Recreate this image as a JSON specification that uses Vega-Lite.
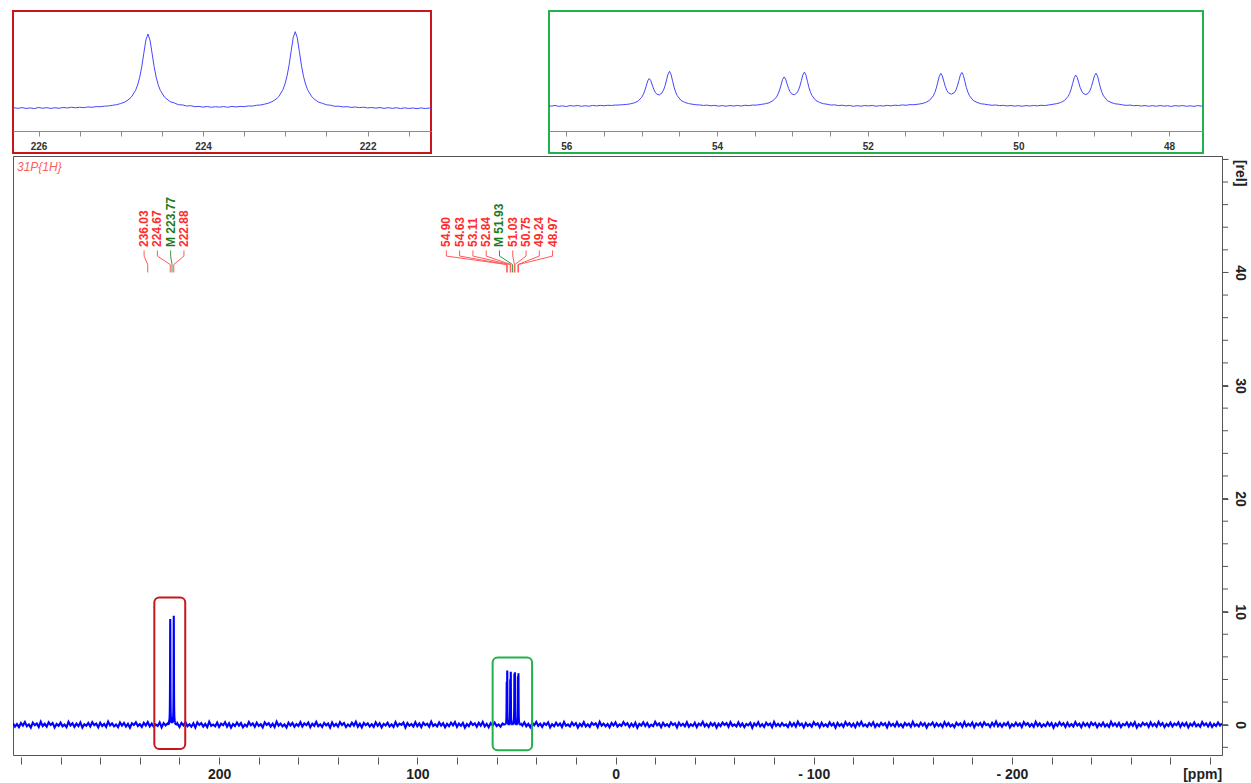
{
  "$schema": "https://vega.github.io/schema/vega-lite/v6.json",
  "background": "white",
  "padding": {"left": 12, "top": 10, "right": 2, "bottom": 0},
  "spacing": 1,
  "config": {
    "font": "Liberation Sans",
    "view": {"stroke": null},
    "axis": {"labelFont": "Liberation Sans", "grid": false, "labelOverlap": false}
  },
  "datasets": {
    "relTicks": [
      {"v": -2}, {"v": 0}, {"v": 2}, {"v": 4}, {"v": 6}, {"v": 8}, {"v": 10}, {"v": 12}, {"v": 14}, {"v": 16},
      {"v": 18}, {"v": 20}, {"v": 22}, {"v": 24}, {"v": 26}, {"v": 28}, {"v": 30}, {"v": 32}, {"v": 34}, {"v": 36},
      {"v": 38}, {"v": 40}, {"v": 42}, {"v": 44}, {"v": 46}, {"v": 48}, {"v": 50}
    ],
    "peaks": [
      {"ppm": 236.03, "label": "236.03", "kind": "peak", "group": 1},
      {"ppm": 224.67, "label": "224.67", "kind": "peak", "group": 1},
      {"ppm": 223.77, "label": "M 223.77", "kind": "multiplet", "group": 1},
      {"ppm": 222.88, "label": "222.88", "kind": "peak", "group": 1},
      {"ppm": 54.90, "label": "54.90", "kind": "peak", "group": 2},
      {"ppm": 54.63, "label": "54.63", "kind": "peak", "group": 2},
      {"ppm": 53.11, "label": "53.11", "kind": "peak", "group": 2},
      {"ppm": 52.84, "label": "52.84", "kind": "peak", "group": 2},
      {"ppm": 51.93, "label": "M 51.93", "kind": "multiplet", "group": 2},
      {"ppm": 51.03, "label": "51.03", "kind": "peak", "group": 2},
      {"ppm": 50.75, "label": "50.75", "kind": "peak", "group": 2},
      {"ppm": 49.24, "label": "49.24", "kind": "peak", "group": 2},
      {"ppm": 48.97, "label": "48.97", "kind": "peak", "group": 2}
    ],
    "spectrum": [
      {"p":304,"i":0.12},{"p":303,"i":-0.18},{"p":302,"i":0.05},{"p":301,"i":-0.22},{"p":300,"i":0.15},{"p":299,"i":-0.08},{"p":298,"i":0.24},{"p":297,"i":-0.14},{"p":296,"i":0.03},{"p":295,"i":-0.26},
      {"p":294,"i":0.19},{"p":293,"i":-0.05},{"p":292,"i":0.11},{"p":291,"i":-0.2},{"p":290,"i":0.27},{"p":289,"i":-0.12},{"p":288,"i":0.08},{"p":287,"i":-0.17},{"p":286,"i":0.21},{"p":285,"i":-0.02},
      {"p":284,"i":0.14},{"p":283,"i":-0.24},{"p":282,"i":0.06},{"p":281,"i":-0.1},{"p":280,"i":0.18},{"p":279,"i":-0.15},{"p":278,"i":0.01},{"p":277,"i":-0.21},{"p":276,"i":0.25},{"p":275,"i":-0.07},
      {"p":274,"i":0.13},{"p":273,"i":-0.19},{"p":272,"i":0.09},{"p":271,"i":-0.13},{"p":270,"i":0.2},{"p":269,"i":-0.25},{"p":268,"i":0.04},{"p":267,"i":-0.09},{"p":266,"i":0.16},{"p":265,"i":-0.16},
      {"p":264,"i":0.22},{"p":263,"i":-0.04},{"p":262,"i":0.1},{"p":261,"i":-0.23},{"p":260,"i":0.17},{"p":259,"i":-0.11},{"p":258,"i":0.07},{"p":257,"i":-0.19},{"p":256,"i":0.28},{"p":255,"i":-0.06},
      {"p":254,"i":0.12},{"p":253,"i":-0.14},{"p":252,"i":0.02},{"p":251,"i":-0.22},{"p":250,"i":0.19},{"p":249,"i":-0.09},{"p":248,"i":0.15},{"p":247,"i":-0.17},{"p":246,"i":0.08},{"p":245,"i":-0.27},
      {"p":244,"i":0.13},{"p":243,"i":-0.03},{"p":242,"i":0.21},{"p":241,"i":-0.12},{"p":240,"i":0.05},{"p":239,"i":-0.2},{"p":238,"i":0.16},{"p":237,"i":-0.08},{"p":236,"i":0.24},{"p":235,"i":-0.15},
      {"p":234,"i":0.1},{"p":233,"i":-0.18},{"p":232,"i":0.03},{"p":231,"i":-0.11},{"p":230,"i":0.2},{"p":229,"i":-0.24},{"p":228,"i":0.14},{"p":227,"i":-0.06},
      {"p":226.40,"i":0.05},{"p":226.35,"i":-0.04},{"p":226.30,"i":0.07},{"p":226.25,"i":0.00},{"p":226.20,"i":0.09},{"p":226.15,"i":-0.02},{"p":226.10,"i":0.05},{"p":226.05,"i":-0.04},{"p":226.00,"i":0.11},{"p":225.95,"i":0.01},
      {"p":225.90,"i":0.08},{"p":225.85,"i":-0.01},{"p":225.80,"i":0.07},{"p":225.75,"i":0.01},{"p":225.70,"i":0.11},{"p":225.65,"i":0.04},{"p":225.60,"i":0.14},{"p":225.55,"i":0.07},{"p":225.50,"i":0.14},{"p":225.45,"i":0.08},
      {"p":225.40,"i":0.18},{"p":225.35,"i":0.13},{"p":225.30,"i":0.21},{"p":225.25,"i":0.20},{"p":225.20,"i":0.27},{"p":225.15,"i":0.30},{"p":225.10,"i":0.38},{"p":225.05,"i":0.46},{"p":225.00,"i":0.60},{"p":224.95,"i":0.80},
      {"p":224.90,"i":1.14},{"p":224.87,"i":1.43},{"p":224.82,"i":2.27},{"p":224.795,"i":2.95},{"p":224.77,"i":3.91},{"p":224.745,"i":5.25},{"p":224.72,"i":6.94},{"p":224.695,"i":8.59},{"p":224.67,"i":9.34},{"p":224.645,"i":8.59},
      {"p":224.62,"i":6.94},{"p":224.595,"i":5.25},{"p":224.57,"i":3.91},{"p":224.545,"i":2.95},{"p":224.52,"i":2.27},{"p":224.47,"i":1.43},{"p":224.45,"i":1.24},{"p":224.40,"i":0.83},{"p":224.35,"i":0.68},{"p":224.30,"i":0.45},
      {"p":224.25,"i":0.43},{"p":224.20,"i":0.29},{"p":224.15,"i":0.33},{"p":224.10,"i":0.21},{"p":224.05,"i":0.24},{"p":224.00,"i":0.15},{"p":223.95,"i":0.23},{"p":223.90,"i":0.13},{"p":223.85,"i":0.20},{"p":223.80,"i":0.15},
      {"p":223.75,"i":0.22},{"p":223.70,"i":0.13},{"p":223.65,"i":0.24},{"p":223.60,"i":0.17},{"p":223.55,"i":0.24},{"p":223.50,"i":0.21},{"p":223.45,"i":0.30},{"p":223.40,"i":0.28},{"p":223.35,"i":0.38},{"p":223.30,"i":0.42},
      {"p":223.25,"i":0.53},{"p":223.20,"i":0.67},{"p":223.15,"i":0.90},{"p":223.10,"i":1.27},{"p":223.08,"i":1.47},{"p":223.03,"i":2.34},{"p":223.005,"i":3.05},{"p":222.98,"i":4.04},{"p":222.955,"i":5.42},{"p":222.93,"i":7.16},
      {"p":222.905,"i":8.87},{"p":222.88,"i":9.64},{"p":222.855,"i":8.87},{"p":222.83,"i":7.16},{"p":222.805,"i":5.42},{"p":222.78,"i":4.04},{"p":222.755,"i":3.05},{"p":222.73,"i":2.34},{"p":222.68,"i":1.47},{"p":222.65,"i":1.18},
      {"p":222.60,"i":0.79},{"p":222.55,"i":0.63},{"p":222.50,"i":0.44},{"p":222.45,"i":0.39},{"p":222.40,"i":0.25},{"p":222.35,"i":0.27},{"p":222.30,"i":0.17},{"p":222.25,"i":0.21},{"p":222.20,"i":0.12},{"p":222.15,"i":0.16},
      {"p":222.10,"i":0.09},{"p":222.05,"i":0.14},{"p":222.00,"i":0.05},{"p":221.95,"i":0.11},{"p":221.90,"i":0.02},{"p":221.85,"i":0.10},{"p":221.80,"i":-0.01},{"p":221.75,"i":0.08},{"p":221.70,"i":0.00},{"p":221.65,"i":0.07},
      {"p":221.60,"i":-0.03},{"p":221.55,"i":0.06},{"p":221.50,"i":-0.02},{"p":221.45,"i":0.04},{"p":221.40,"i":-0.04},{"p":221.35,"i":0.05},{"p":221.30,"i":-0.02},{"p":221.25,"i":0.03},{"p":221.20,"i":-0.05},{"p":221.15,"i":0.02},
      {"p":221.10,"i":-0.03},
      {"p":221,"i":0.09},{"p":220,"i":-0.21},{"p":219,"i":0.16},{"p":218,"i":-0.07},{"p":217,"i":0.23},{"p":216,"i":-0.13},{"p":215,"i":0.04},{"p":214,"i":-0.18},{"p":213,"i":0.12},{"p":212,"i":-0.25},
      {"p":211,"i":0.2},{"p":210,"i":-0.03},{"p":209,"i":0.14},{"p":208,"i":-0.16},{"p":207,"i":0.07},{"p":206,"i":-0.22},{"p":205,"i":0.26},{"p":204,"i":-0.1},{"p":203,"i":0.02},{"p":202,"i":-0.14},
      {"p":201,"i":0.18},{"p":200,"i":-0.2},{"p":199,"i":0.09},{"p":198,"i":-0.05},{"p":197,"i":0.22},{"p":196,"i":-0.17},{"p":195,"i":0.13},{"p":194,"i":-0.26},{"p":193,"i":0.06},{"p":192,"i":-0.12},
      {"p":191,"i":0.19},{"p":190,"i":-0.08},{"p":189,"i":0.15},{"p":188,"i":-0.23},{"p":187,"i":0.01},{"p":186,"i":-0.15},{"p":185,"i":0.24},{"p":184,"i":-0.06},{"p":183,"i":0.11},{"p":182,"i":-0.19},
      {"p":181,"i":0.17},{"p":180,"i":-0.11},{"p":179,"i":0.05},{"p":178,"i":-0.24},{"p":177,"i":0.21},{"p":176,"i":-0.02},{"p":175,"i":0.13},{"p":174,"i":-0.17},{"p":173,"i":0.08},{"p":172,"i":-0.21},
      {"p":171,"i":0.27},{"p":170,"i":-0.09},{"p":169,"i":0.1},{"p":168,"i":-0.14},{"p":167,"i":0.03},{"p":166,"i":-0.25},{"p":165,"i":0.18},{"p":164,"i":-0.07},{"p":163,"i":0.15},{"p":162,"i":-0.19},
      {"p":161,"i":0.06},{"p":160,"i":-0.12},{"p":159,"i":0.22},{"p":158,"i":-0.16},{"p":157,"i":0.12},{"p":156,"i":-0.04},{"p":155,"i":0.19},{"p":154,"i":-0.22},{"p":153,"i":0.09},{"p":152,"i":-0.1},
      {"p":151,"i":0.25},{"p":150,"i":-0.13},{"p":149,"i":0.04},{"p":148,"i":-0.2},{"p":147,"i":0.16},{"p":146,"i":-0.06},{"p":145,"i":0.11},{"p":144,"i":-0.26},{"p":143,"i":0.2},{"p":142,"i":-0.11},
      {"p":141,"i":0.07},{"p":140,"i":-0.17},{"p":139,"i":0.23},{"p":138,"i":-0.03},{"p":137,"i":0.14},{"p":136,"i":-0.21},{"p":135,"i":0.02},{"p":134,"i":-0.14},{"p":133,"i":0.18},{"p":132,"i":-0.08},
      {"p":131,"i":0.26},{"p":130,"i":-0.18},{"p":129,"i":0.09},{"p":128,"i":-0.23},{"p":127,"i":0.15},{"p":126,"i":-0.05},{"p":125,"i":0.12},{"p":124,"i":-0.16},{"p":123,"i":0.05},{"p":122,"i":-0.2},
      {"p":121,"i":0.21},{"p":120,"i":-0.1},{"p":119,"i":0.13},{"p":118,"i":-0.24},{"p":117,"i":0.08},{"p":116,"i":-0.07},{"p":115,"i":0.17},{"p":114,"i":-0.15},{"p":113,"i":0.03},{"p":112,"i":-0.19},
      {"p":111,"i":0.24},{"p":110,"i":-0.12},{"p":109,"i":0.1},{"p":108,"i":-0.02},{"p":107,"i":0.19},{"p":106,"i":-0.25},{"p":105,"i":0.14},{"p":104,"i":-0.09},{"p":103,"i":0.06},{"p":102,"i":-0.16},
      {"p":101,"i":0.22},{"p":100,"i":-0.13},{"p":99,"i":0.11},{"p":98,"i":-0.21},{"p":97,"i":0.17},{"p":96,"i":-0.04},{"p":95,"i":0.09},{"p":94,"i":-0.18},{"p":93,"i":0.27},{"p":92,"i":-0.11},
      {"p":91,"i":0.04},{"p":90,"i":-0.15},{"p":89,"i":0.2},{"p":88,"i":-0.08},{"p":87,"i":0.13},{"p":86,"i":-0.23},{"p":85,"i":0.07},{"p":84,"i":-0.13},{"p":83,"i":0.18},{"p":82,"i":-0.06},
      {"p":81,"i":0.23},{"p":80,"i":-0.2},{"p":79,"i":0.1},{"p":78,"i":-0.1},{"p":77,"i":0.15},{"p":76,"i":-0.26},{"p":75,"i":0.05},{"p":74,"i":-0.14},{"p":73,"i":0.21},{"p":72,"i":-0.03},
      {"p":71,"i":0.12},{"p":70,"i":-0.18},{"p":69,"i":0.16},{"p":68,"i":-0.09},{"p":67,"i":0.25},{"p":66,"i":-0.16},{"p":65,"i":0.08},{"p":64,"i":-0.22},{"p":63,"i":0.14},{"p":62,"i":-0.07},
      {"p":61,"i":0.19},{"p":60,"i":-0.12},{"p":59,"i":0.03},{"p":58,"i":-0.17},{"p":57,"i":0.11},
      {"p":56.35,"i":0.03},{"p":56.30,"i":-0.06},{"p":56.25,"i":0.05},{"p":56.20,"i":-0.02},{"p":56.15,"i":0.08},{"p":56.10,"i":-0.05},{"p":56.05,"i":0.02},{"p":56.00,"i":-0.07},{"p":55.95,"i":0.06},{"p":55.90,"i":-0.01},
      {"p":55.85,"i":0.07},{"p":55.80,"i":-0.04},{"p":55.75,"i":0.04},{"p":55.70,"i":-0.03},{"p":55.65,"i":0.08},{"p":55.60,"i":0.01},{"p":55.55,"i":0.09},{"p":55.50,"i":0.03},{"p":55.45,"i":0.10},{"p":55.40,"i":0.07},
      {"p":55.35,"i":0.13},{"p":55.30,"i":0.14},{"p":55.25,"i":0.18},
      {"p":55.20,"i":0.22},{"p":55.15,"i":0.30},{"p":55.10,"i":0.43},{"p":55.05,"i":0.66},{"p":55.00,"i":1.19},{"p":54.98,"i":1.57},{"p":54.96,"i":2.09},{"p":54.94,"i":2.77},{"p":54.92,"i":3.46},{"p":54.90,"i":3.80},
      {"p":54.88,"i":3.53},{"p":54.86,"i":2.91},{"p":54.84,"i":2.32},{"p":54.82,"i":1.90},{"p":54.80,"i":1.64},{"p":54.765,"i":1.53},{"p":54.73,"i":1.82},{"p":54.71,"i":2.20},{"p":54.69,"i":2.79},{"p":54.67,"i":3.60},
      {"p":54.65,"i":4.42},{"p":54.63,"i":4.80},{"p":54.61,"i":4.37},{"p":54.59,"i":3.48},{"p":54.57,"i":2.62},{"p":54.55,"i":1.95},{"p":54.53,"i":1.47},{"p":54.48,"i":0.79},{"p":54.43,"i":0.51},{"p":54.38,"i":0.34},
      {"p":54.33,"i":0.25},
      {"p":54.28,"i":0.17},{"p":54.23,"i":0.15},{"p":54.18,"i":0.08},{"p":54.13,"i":0.12},{"p":54.08,"i":0.03},{"p":54.03,"i":0.09},{"p":53.98,"i":-0.02},{"p":53.93,"i":0.06},{"p":53.88,"i":-0.03},{"p":53.83,"i":0.07},
      {"p":53.78,"i":0.00},{"p":53.73,"i":0.08},{"p":53.68,"i":-0.01},{"p":53.63,"i":0.10},{"p":53.58,"i":0.05},{"p":53.53,"i":0.13},{"p":53.48,"i":0.12},
      {"p":53.41,"i":0.23},{"p":53.36,"i":0.31},{"p":53.31,"i":0.44},{"p":53.26,"i":0.71},{"p":53.21,"i":1.25},{"p":53.19,"i":1.65},{"p":53.17,"i":2.20},{"p":53.15,"i":2.92},{"p":53.13,"i":3.66},{"p":53.11,"i":4.02},
      {"p":53.09,"i":3.73},{"p":53.07,"i":3.06},{"p":53.05,"i":2.43},{"p":53.03,"i":1.97},{"p":53.01,"i":1.69},{"p":52.975,"i":1.55},{"p":52.94,"i":1.81},{"p":52.92,"i":2.18},{"p":52.90,"i":2.75},{"p":52.88,"i":3.53},
      {"p":52.86,"i":4.33},{"p":52.84,"i":4.69},{"p":52.82,"i":4.27},{"p":52.80,"i":3.41},{"p":52.78,"i":2.56},{"p":52.76,"i":1.91},{"p":52.74,"i":1.44},{"p":52.69,"i":0.77},{"p":52.64,"i":0.50},{"p":52.59,"i":0.32},
      {"p":52.54,"i":0.25},
      {"p":52.49,"i":0.13},{"p":52.44,"i":0.16},{"p":52.39,"i":0.06},{"p":52.34,"i":0.11},{"p":52.29,"i":0.02},{"p":52.24,"i":0.08},{"p":52.19,"i":-0.04},{"p":52.14,"i":0.05},{"p":52.09,"i":-0.02},{"p":52.04,"i":0.06},
      {"p":51.99,"i":0.01},{"p":51.94,"i":0.08},{"p":51.89,"i":-0.03},{"p":51.84,"i":0.05},{"p":51.79,"i":0.00},{"p":51.74,"i":0.09},{"p":51.69,"i":0.02},{"p":51.64,"i":0.11},{"p":51.59,"i":0.07},{"p":51.54,"i":0.15},
      {"p":51.49,"i":0.10},{"p":51.44,"i":0.19},{"p":51.39,"i":0.18},
      {"p":51.33,"i":0.25},{"p":51.28,"i":0.34},{"p":51.23,"i":0.49},{"p":51.18,"i":0.78},{"p":51.13,"i":1.40},{"p":51.11,"i":1.85},{"p":51.09,"i":2.47},{"p":51.07,"i":3.28},{"p":51.05,"i":4.11},{"p":51.03,"i":4.51},
      {"p":51.01,"i":4.18},{"p":50.99,"i":3.42},{"p":50.97,"i":2.69},{"p":50.95,"i":2.16},{"p":50.93,"i":1.83},{"p":50.89,"i":1.63},{"p":50.85,"i":1.86},{"p":50.83,"i":2.20},{"p":50.81,"i":2.75},{"p":50.79,"i":3.51},
      {"p":50.77,"i":4.30},{"p":50.75,"i":4.64},{"p":50.73,"i":4.23},{"p":50.71,"i":3.38},{"p":50.69,"i":2.54},{"p":50.67,"i":1.90},{"p":50.65,"i":1.44},{"p":50.60,"i":0.76},{"p":50.55,"i":0.50},{"p":50.50,"i":0.32},
      {"p":50.45,"i":0.25},
      {"p":50.40,"i":0.17},{"p":50.35,"i":0.10},{"p":50.30,"i":0.14},{"p":50.25,"i":0.05},{"p":50.20,"i":0.09},{"p":50.15,"i":0.01},{"p":50.10,"i":0.07},{"p":50.05,"i":-0.02},{"p":50.00,"i":0.05},{"p":49.95,"i":-0.03},
      {"p":49.90,"i":0.06},{"p":49.85,"i":0.00},{"p":49.80,"i":0.08},{"p":49.75,"i":0.02},{"p":49.70,"i":0.10},{"p":49.65,"i":0.06},{"p":49.60,"i":0.14},
      {"p":49.54,"i":0.24},{"p":49.49,"i":0.33},{"p":49.44,"i":0.47},{"p":49.39,"i":0.75},{"p":49.34,"i":1.33},{"p":49.32,"i":1.75},{"p":49.30,"i":2.34},{"p":49.28,"i":3.11},{"p":49.26,"i":3.90},{"p":49.24,"i":4.28},
      {"p":49.22,"i":3.96},{"p":49.20,"i":3.25},{"p":49.18,"i":2.56},{"p":49.16,"i":2.06},{"p":49.14,"i":1.75},{"p":49.105,"i":1.57},{"p":49.07,"i":1.80},{"p":49.05,"i":2.14},{"p":49.03,"i":2.69},{"p":49.01,"i":3.43},
      {"p":48.99,"i":4.20},{"p":48.97,"i":4.54},{"p":48.95,"i":4.14},{"p":48.93,"i":3.30},{"p":48.91,"i":2.48},{"p":48.89,"i":1.85},{"p":48.87,"i":1.40},{"p":48.82,"i":0.74},{"p":48.77,"i":0.49},{"p":48.72,"i":0.31},
      {"p":48.67,"i":0.25},
      {"p":48.62,"i":0.16},{"p":48.57,"i":0.09},{"p":48.52,"i":0.13},{"p":48.47,"i":0.04},{"p":48.42,"i":0.08},{"p":48.37,"i":0.00},{"p":48.32,"i":0.06},{"p":48.27,"i":-0.03},{"p":48.22,"i":0.05},{"p":48.17,"i":-0.04},
      {"p":48.12,"i":0.07},{"p":48.07,"i":-0.02},{"p":48.02,"i":0.04},{"p":47.97,"i":-0.06},{"p":47.92,"i":0.05},{"p":47.87,"i":-0.01},{"p":47.82,"i":0.06},{"p":47.77,"i":-0.04},{"p":47.72,"i":0.03},{"p":47.67,"i":-0.05},
      {"p":47.62,"i":0.06},{"p":47.57,"i":-0.02},{"p":47.52,"i":0.04},{"p":47.47,"i":-0.06},{"p":47.42,"i":0.02},
      {"p":47,"i":-0.08},{"p":46,"i":0.2},{"p":45,"i":-0.14},{"p":44,"i":0.07},{"p":43,"i":-0.22},{"p":42,"i":0.16},{"p":41,"i":-0.05},{"p":40,"i":0.25},{"p":39,"i":-0.11},{"p":38,"i":0.09},
      {"p":37,"i":-0.19},{"p":36,"i":0.13},{"p":35,"i":-0.03},{"p":34,"i":0.21},{"p":33,"i":-0.24},{"p":32,"i":0.05},{"p":31,"i":-0.13},{"p":30,"i":0.18},{"p":29,"i":-0.08},{"p":28,"i":0.11},
      {"p":27,"i":-0.2},{"p":26,"i":0.24},{"p":25,"i":-0.1},{"p":24,"i":0.02},{"p":23,"i":-0.16},{"p":22,"i":0.19},{"p":21,"i":-0.06},{"p":20,"i":0.14},{"p":19,"i":-0.25},{"p":18,"i":0.08},
      {"p":17,"i":-0.12},{"p":16,"i":0.22},{"p":15,"i":-0.15},{"p":14,"i":0.04},{"p":13,"i":-0.18},{"p":12,"i":0.17},{"p":11,"i":-0.02},{"p":10,"i":0.12},{"p":9,"i":-0.21},{"p":8,"i":0.26},
      {"p":7,"i":-0.09},{"p":6,"i":0.1},{"p":5,"i":-0.14},{"p":4,"i":0.06},{"p":3,"i":-0.23},{"p":2,"i":0.15},{"p":1,"i":-0.07},{"p":0,"i":0.2},{"p":-1,"i":-0.17},{"p":-2,"i":0.03},
      {"p":-3,"i":-0.11},{"p":-4,"i":0.23},{"p":-5,"i":-0.04},{"p":-6,"i":0.13},{"p":-7,"i":-0.2},{"p":-8,"i":0.09},{"p":-9,"i":-0.15},{"p":-10,"i":0.18},{"p":-11,"i":-0.26},{"p":-12,"i":0.07},
      {"p":-13,"i":-0.08},{"p":-14,"i":0.21},{"p":-15,"i":-0.12},{"p":-16,"i":0.14},{"p":-17,"i":-0.19},{"p":-18,"i":0.01},{"p":-19,"i":-0.13},{"p":-20,"i":0.25},{"p":-21,"i":-0.06},{"p":-22,"i":0.11},
      {"p":-23,"i":-0.22},{"p":-24,"i":0.16},{"p":-25,"i":-0.1},{"p":-26,"i":0.05},{"p":-27,"i":-0.17},{"p":-28,"i":0.2},{"p":-29,"i":-0.03},{"p":-30,"i":0.12},{"p":-31,"i":-0.24},{"p":-32,"i":0.18},
      {"p":-33,"i":-0.09},{"p":-34,"i":0.08},{"p":-35,"i":-0.14},{"p":-36,"i":0.22},{"p":-37,"i":-0.18},{"p":-38,"i":0.04},{"p":-39,"i":-0.11},{"p":-40,"i":0.17},{"p":-41,"i":-0.21},{"p":-42,"i":0.1},
      {"p":-43,"i":-0.05},{"p":-44,"i":0.26},{"p":-45,"i":-0.14},{"p":-46,"i":0.06},{"p":-47,"i":-0.2},{"p":-48,"i":0.15},{"p":-49,"i":-0.07},{"p":-50,"i":0.13},{"p":-51,"i":-0.25},{"p":-52,"i":0.09},
      {"p":-53,"i":-0.12},{"p":-54,"i":0.19},{"p":-55,"i":-0.02},{"p":-56,"i":0.14},{"p":-57,"i":-0.18},{"p":-58,"i":0.23},{"p":-59,"i":-0.1},{"p":-60,"i":0.03},{"p":-61,"i":-0.16},{"p":-62,"i":0.2},
      {"p":-63,"i":-0.13},{"p":-64,"i":0.11},{"p":-65,"i":-0.22},{"p":-66,"i":0.07},{"p":-67,"i":-0.06},{"p":-68,"i":0.16},{"p":-69,"i":-0.27},{"p":-70,"i":0.12},{"p":-71,"i":-0.09},{"p":-72,"i":0.21},
      {"p":-73,"i":-0.15},{"p":-74,"i":0.05},{"p":-75,"i":-0.19},{"p":-76,"i":0.18},{"p":-77,"i":-0.04},{"p":-78,"i":0.1},{"p":-79,"i":-0.23},{"p":-80,"i":0.24},{"p":-81,"i":-0.11},{"p":-82,"i":0.08},
      {"p":-83,"i":-0.14},{"p":-84,"i":0.15},{"p":-85,"i":-0.08},{"p":-86,"i":0.02},{"p":-87,"i":-0.2},{"p":-88,"i":0.19},{"p":-89,"i":-0.12},{"p":-90,"i":0.13},{"p":-91,"i":-0.17},{"p":-92,"i":0.27},
      {"p":-93,"i":-0.06},{"p":-94,"i":0.09},{"p":-95,"i":-0.24},{"p":-96,"i":0.14},{"p":-97,"i":-0.1},{"p":-98,"i":0.06},{"p":-99,"i":-0.18},{"p":-100,"i":0.22},{"p":-101,"i":-0.03},{"p":-102,"i":0.12},
      {"p":-103,"i":-0.21},{"p":-104,"i":0.17},{"p":-105,"i":-0.13},{"p":-106,"i":0.04},{"p":-107,"i":-0.16},{"p":-108,"i":0.2},{"p":-109,"i":-0.08},{"p":-110,"i":0.11},{"p":-111,"i":-0.26},{"p":-112,"i":0.16},
      {"p":-113,"i":-0.11},{"p":-114,"i":0.07},{"p":-115,"i":-0.19},{"p":-116,"i":0.23},{"p":-117,"i":-0.05},{"p":-118,"i":0.13},{"p":-119,"i":-0.15},{"p":-120,"i":0.09},{"p":-121,"i":-0.22},{"p":-122,"i":0.18},
      {"p":-123,"i":-0.07},{"p":-124,"i":0.25},{"p":-125,"i":-0.12},{"p":-126,"i":0.03},{"p":-127,"i":-0.17},{"p":-128,"i":0.14},{"p":-129,"i":-0.09},{"p":-130,"i":0.21},{"p":-131,"i":-0.2},{"p":-132,"i":0.06},
      {"p":-133,"i":-0.13},{"p":-134,"i":0.16},{"p":-135,"i":-0.04},{"p":-136,"i":0.12},{"p":-137,"i":-0.24},{"p":-138,"i":0.19},{"p":-139,"i":-0.1},{"p":-140,"i":0.08},{"p":-141,"i":-0.16},{"p":-142,"i":0.22},
      {"p":-143,"i":-0.14},{"p":-144,"i":0.05},{"p":-145,"i":-0.21},{"p":-146,"i":0.15},{"p":-147,"i":-0.06},{"p":-148,"i":0.1},{"p":-149,"i":-0.18},{"p":-150,"i":0.26},{"p":-151,"i":-0.11},{"p":-152,"i":0.04},
      {"p":-153,"i":-0.15},{"p":-154,"i":0.18},{"p":-155,"i":-0.08},{"p":-156,"i":0.13},{"p":-157,"i":-0.25},{"p":-158,"i":0.09},{"p":-159,"i":-0.03},{"p":-160,"i":0.2},{"p":-161,"i":-0.17},{"p":-162,"i":0.11},
      {"p":-163,"i":-0.12},{"p":-164,"i":0.07},{"p":-165,"i":-0.2},{"p":-166,"i":0.23},{"p":-167,"i":-0.09},{"p":-168,"i":0.14},{"p":-169,"i":-0.14},{"p":-170,"i":0.02},{"p":-171,"i":-0.22},{"p":-172,"i":0.17},
      {"p":-173,"i":-0.05},{"p":-174,"i":0.12},{"p":-175,"i":-0.19},{"p":-176,"i":0.24},{"p":-177,"i":-0.13},{"p":-178,"i":0.08},{"p":-179,"i":-0.1},{"p":-180,"i":0.19},{"p":-181,"i":-0.23},{"p":-182,"i":0.1},
      {"p":-183,"i":-0.07},{"p":-184,"i":0.15},{"p":-185,"i":-0.16},{"p":-186,"i":0.21},{"p":-187,"i":-0.04},{"p":-188,"i":0.06},{"p":-189,"i":-0.2},{"p":-190,"i":0.16},{"p":-191,"i":-0.11},{"p":-192,"i":0.27},
      {"p":-193,"i":-0.14},{"p":-194,"i":0.09},{"p":-195,"i":-0.18},{"p":-196,"i":0.13},{"p":-197,"i":-0.06},{"p":-198,"i":0.2},{"p":-199,"i":-0.24},{"p":-200,"i":0.05},{"p":-201,"i":-0.12},{"p":-202,"i":0.18},
      {"p":-203,"i":-0.09},{"p":-204,"i":0.11},{"p":-205,"i":-0.21},{"p":-206,"i":0.22},{"p":-207,"i":-0.03},{"p":-208,"i":0.14},{"p":-209,"i":-0.15},{"p":-210,"i":0.07},{"p":-211,"i":-0.19},{"p":-212,"i":0.25},
      {"p":-213,"i":-0.1},{"p":-214,"i":0.12},{"p":-215,"i":-0.17},{"p":-216,"i":0.03},{"p":-217,"i":-0.13},{"p":-218,"i":0.19},{"p":-219,"i":-0.08},{"p":-220,"i":0.15},{"p":-221,"i":-0.26},{"p":-222,"i":0.1},
      {"p":-223,"i":-0.11},{"p":-224,"i":0.21},{"p":-225,"i":-0.05},{"p":-226,"i":0.13},{"p":-227,"i":-0.2},{"p":-228,"i":0.17},{"p":-229,"i":-0.14},{"p":-230,"i":0.06},{"p":-231,"i":-0.16},{"p":-232,"i":0.23},
      {"p":-233,"i":-0.07},{"p":-234,"i":0.09},{"p":-235,"i":-0.22},{"p":-236,"i":0.16},{"p":-237,"i":-0.1},{"p":-238,"i":0.12},{"p":-239,"i":-0.18},{"p":-240,"i":0.2},{"p":-241,"i":-0.04},{"p":-242,"i":0.14},
      {"p":-243,"i":-0.23},{"p":-244,"i":0.08},{"p":-245,"i":-0.12},{"p":-246,"i":0.18},{"p":-247,"i":-0.15},{"p":-248,"i":0.04},{"p":-249,"i":-0.19},{"p":-250,"i":0.26},{"p":-251,"i":-0.08},{"p":-252,"i":0.11},
      {"p":-253,"i":-0.14},{"p":-254,"i":0.15},{"p":-255,"i":-0.21},{"p":-256,"i":0.07},{"p":-257,"i":-0.06},{"p":-258,"i":0.19},{"p":-259,"i":-0.16},{"p":-260,"i":0.13},{"p":-261,"i":-0.1},{"p":-262,"i":0.22},
      {"p":-263,"i":-0.25},{"p":-264,"i":0.05},{"p":-265,"i":-0.13},{"p":-266,"i":0.17},{"p":-267,"i":-0.03},{"p":-268,"i":0.12},{"p":-269,"i":-0.2},{"p":-270,"i":0.2},{"p":-271,"i":-0.11},{"p":-272,"i":0.09},
      {"p":-273,"i":-0.17},{"p":-274,"i":0.24},{"p":-275,"i":-0.07},{"p":-276,"i":0.14},{"p":-277,"i":-0.22},{"p":-278,"i":0.06},{"p":-279,"i":-0.12},{"p":-280,"i":0.18},{"p":-281,"i":-0.15},{"p":-282,"i":0.1},
      {"p":-283,"i":-0.05},{"p":-284,"i":0.21},{"p":-285,"i":-0.19},{"p":-286,"i":0.13},{"p":-287,"i":-0.09},{"p":-288,"i":0.16},{"p":-289,"i":-0.24},{"p":-290,"i":0.08},{"p":-291,"i":-0.1},{"p":-292,"i":0.2},
      {"p":-293,"i":-0.14},{"p":-294,"i":0.03},{"p":-295,"i":-0.18},{"p":-296,"i":0.23},{"p":-297,"i":-0.06},{"p":-298,"i":0.12},{"p":-299,"i":-0.16},{"p":-300,"i":0.15},{"p":-301,"i":-0.2},{"p":-302,"i":0.07},
      {"p":-303,"i":-0.11},{"p":-304,"i":0.19},{"p":-305,"i":-0.08},{"p":-306,"i":0.1}
    ]
  },
  "vconcat": [
    {
      "spacing": 116,
      "hconcat": [
        {
          "width": 418,
          "height": 142,
          "view": {"stroke": "#c8161d", "strokeWidth": 2},
          "data": {"name": "spectrum"},
          "transform": [{"filter": "datum.p > 221.05 && datum.p < 226.45"}],
          "mark": {"type": "line", "color": "#4646ff", "strokeWidth": 1, "clip": true},
          "encoding": {
            "x": {
              "field": "p", "type": "quantitative",
              "scale": {"domain": [221.23, 226.31], "reverse": true, "nice": false, "zero": false},
              "axis": {
                "values": [226, 225.5, 225, 224.5, 224, 223.5, 223, 222.5, 222, 221.5],
                "labelExpr": "datum.value % 2 == 0 ? '' + datum.value : ''",
                "offset": -22, "domainColor": "#8a8a8a", "tickColor": "#8a8a8a", "tickSize": 5,
                "labelFontSize": 10, "labelFontWeight": "bold", "labelColor": "#333333",
                "labelPadding": 5, "labelFlush": false, "title": null
              }
            },
            "y": {
              "field": "i", "type": "quantitative",
              "scale": {"domain": [-5.62, 12.24], "nice": false, "zero": false},
              "axis": null
            }
          }
        },
        {
          "width": 654,
          "height": 142,
          "view": {"stroke": "#22b14c", "strokeWidth": 2},
          "data": {"name": "spectrum"},
          "transform": [{"filter": "datum.p > 47.3 && datum.p < 56.4"}],
          "mark": {"type": "line", "color": "#4646ff", "strokeWidth": 1, "clip": true},
          "encoding": {
            "x": {
              "field": "p", "type": "quantitative",
              "scale": {"domain": [47.55, 56.23], "reverse": true, "nice": false, "zero": false},
              "axis": {
                "values": [56, 55.5, 55, 54.5, 54, 53.5, 53, 52.5, 52, 51.5, 51, 50.5, 50, 49.5, 49, 48.5, 48],
                "labelExpr": "datum.value % 2 == 0 ? '' + datum.value : ''",
                "offset": -22, "domainColor": "#8a8a8a", "tickColor": "#8a8a8a", "tickSize": 5,
                "labelFontSize": 10, "labelFontWeight": "bold", "labelColor": "#333333",
                "labelPadding": 5, "labelFlush": false, "title": null
              }
            },
            "y": {
              "field": "i", "type": "quantitative",
              "scale": {"domain": [-6.5, 13.14], "nice": false, "zero": false},
              "axis": null
            }
          }
        }
      ]
    },
    {
      "width": 1209,
      "height": 599,
      "view": {"stroke": "#555555", "strokeWidth": 1},
      "layer": [
        {
          "data": {"name": "spectrum"},
          "mark": {"type": "line", "color": "#0000ff", "strokeWidth": 2.1, "clip": true},
          "encoding": {
            "x": {
              "field": "p", "type": "quantitative",
              "scale": {"domain": [-306, 304], "reverse": true, "nice": false, "zero": false},
              "axis": {
                "orient": "bottom",
                "values": [300, 280, 260, 240, 220, 200, 180, 160, 140, 120, 100, 80, 60, 40, 20, 0, -20, -40, -60, -80, -100, -120, -140, -160, -180, -200, -220, -240, -260, -280, -300],
                "labelExpr": "datum.value == -300 ? '[ppm]' : ((datum.value == 300 || datum.value % 100 != 0) ? '' : (datum.value < 0 ? '- ' + abs(datum.value) : '' + datum.value))",
                "offset": 2, "domain": false, "tickSize": 7, "tickColor": "#555555",
                "labelFontSize": 14, "labelFontWeight": "bold", "labelColor": "#222222",
                "labelPadding": 3, "labelFlush": false,
                "labelOffset": {"condition": {"test": "datum.value == -300", "value": -8}, "value": 0},
                "title": null
              }
            },
            "y": {
              "field": "i", "type": "quantitative",
              "scale": {"domain": [-2.68, 50.3], "nice": false, "zero": false},
              "axis": {
                "orient": "right",
                "values": [0, 10, 20, 30, 40, 50],
                "labelExpr": "datum.value == 50 ? '[rel]' : datum.label",
                "labelAngle": 90,
                "labelAlign": {"condition": {"test": "datum.value == 50", "value": "left"}, "value": "center"},
                "domain": false, "tickSize": 6, "tickColor": "#555555",
                "labelFontSize": 14, "labelFontWeight": "bold", "labelColor": "#222222",
                "labelPadding": 4, "labelFlush": false, "labelOverlap": false, "title": null
              }
            }
          }
        },
        {
          "data": {"name": "relTicks"},
          "mark": {"type": "rule", "color": "#555555", "strokeWidth": 1, "clip": false},
          "encoding": {
            "x": {"datum": -306},
            "x2": {"datum": -309.03},
            "y": {"field": "v", "type": "quantitative"}
          }
        },
        {
          "data": {"values": [{}]},
          "mark": {"type": "rect", "filled": false, "color": "#c8161d", "strokeWidth": 2, "cornerRadius": 5},
          "encoding": {
            "x": {"datum": 232.7}, "x2": {"datum": 217.1},
            "y": {"datum": -2.16}, "y2": {"datum": 11.26}
          }
        },
        {
          "data": {"values": [{}]},
          "mark": {"type": "rect", "filled": false, "color": "#22b14c", "strokeWidth": 2, "cornerRadius": 5},
          "encoding": {
            "x": {"datum": 62.0}, "x2": {"datum": 42.1},
            "y": {"datum": -2.25}, "y2": {"datum": 5.95}
          }
        },
        {
          "data": {"name": "peaks"},
          "transform": [
            {"window": [{"op": "row_number", "as": "rank"}], "groupby": ["group"], "sort": [{"field": "ppm", "order": "descending"}]},
            {"joinaggregate": [{"op": "count", "as": "n"}], "groupby": ["group"]},
            {"calculate": "(datum.group == 1 ? 227.8 : 58.55) - (datum.rank - (datum.n + 1) / 2) * 6.7", "as": "labelPpm"}
          ],
          "layer": [
            {
              "mark": {"type": "rule", "strokeWidth": 1},
              "encoding": {
                "x": {"field": "labelPpm", "type": "quantitative"},
                "y": {"datum": 41.95}, "y2": {"datum": 41.45},
                "color": {"condition": {"test": "datum.kind == 'multiplet'", "value": "#3a963a"}, "value": "#ff5a5a"}
              }
            },
            {
              "mark": {"type": "rule", "strokeWidth": 1},
              "encoding": {
                "x": {"field": "labelPpm", "type": "quantitative"},
                "x2": {"field": "ppm"},
                "y": {"datum": 41.45}, "y2": {"datum": 40.7},
                "color": {"condition": {"test": "datum.kind == 'multiplet'", "value": "#3a963a"}, "value": "#ff5a5a"}
              }
            },
            {
              "mark": {"type": "rule", "strokeWidth": 1},
              "encoding": {
                "x": {"field": "ppm", "type": "quantitative"},
                "y": {"datum": 40.7}, "y2": {"datum": 40.0},
                "color": {"condition": {"test": "datum.kind == 'multiplet'", "value": "#3a963a"}, "value": "#ff5a5a"}
              }
            },
            {
              "mark": {"type": "text", "angle": 270, "align": "left", "baseline": "middle", "fontSize": 12, "fontWeight": "bold", "font": "Liberation Sans"},
              "encoding": {
                "x": {"field": "labelPpm", "type": "quantitative"},
                "y": {"datum": 42.25},
                "text": {"field": "label"},
                "color": {"condition": {"test": "datum.kind == 'multiplet'", "value": "#1d7a1d"}, "value": "#ff2b2b"}
              }
            }
          ]
        },
        {
          "data": {"values": [{}]},
          "mark": {"type": "text", "align": "left", "baseline": "middle", "fontSize": 12, "fontStyle": "italic", "font": "Liberation Sans", "color": "#ff5e5e"},
          "encoding": {
            "x": {"datum": 302},
            "y": {"datum": 49.3},
            "text": {"value": "31P{1H}"}
          }
        }
      ]
    }
  ]
}
